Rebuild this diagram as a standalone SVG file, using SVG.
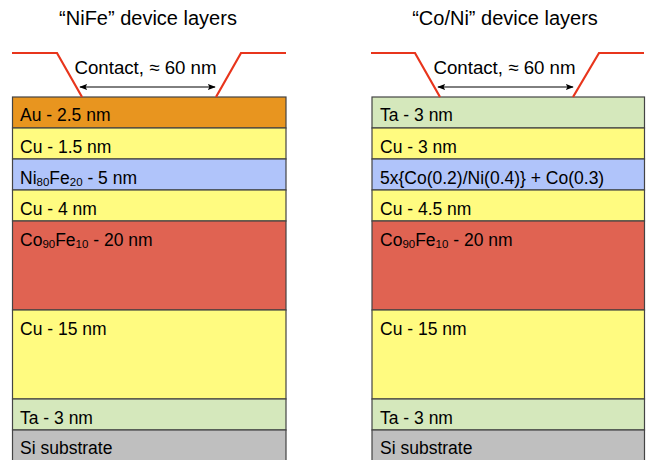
<svg xmlns="http://www.w3.org/2000/svg" width="646" height="460" viewBox="0 0 646 460">
<defs>
<style>
text{font-family:"Liberation Sans",Arial,sans-serif;fill:#000}
.title{font-size:20px;text-anchor:middle}
.ct{font-size:18.7px;text-anchor:middle}
.lbl{font-size:17.5px}
.sub{font-size:11.5px}
.layer{stroke:#444;stroke-width:1.2}
.au{fill:#E8951F}.cu{fill:#FFFB80}.nife{fill:#B0C4FA}.cofe{fill:#E06352}.ta{fill:#D5E8BC}.si{fill:#BFBFBF}
.contact{fill:none;stroke:#E8351C;stroke-width:2.2}
.arr{stroke:#000;stroke-width:1;marker-start:url(#ah);marker-end:url(#ah)}
</style>
<marker id="ah" viewBox="0 0 10 10" refX="9" refY="5" markerWidth="8" markerHeight="8" orient="auto-start-reverse" markerUnits="userSpaceOnUse">
<path d="M0,1 L10,5 L0,9 L2,5 Z" fill="#000"/>
</marker>
</defs>
<rect width="646" height="460" fill="#fff"/>

<g id="nife-stack">
<text class="title" x="148" y="25">“NiFe” device layers</text>
<g id="nife-au"><rect class="layer au" x="12.5" y="97" width="273.5" height="31"/><text class="lbl" x="20" y="121">Au - 2.5 nm</text></g>
<g id="nife-cu1"><rect class="layer cu" x="12.5" y="128" width="273.5" height="31"/><text class="lbl" x="20" y="152.5">Cu - 1.5 nm</text></g>
<g id="nife-nife"><rect class="layer nife" x="12.5" y="159" width="273.5" height="31"/><text class="lbl" x="20" y="183.5">Ni<tspan class="sub" dy="2">80</tspan><tspan dy="-2">Fe</tspan><tspan class="sub" dy="2">20</tspan><tspan dy="-2"> - 5 nm</tspan></text></g>
<g id="nife-cu2"><rect class="layer cu" x="12.5" y="190" width="273.5" height="31"/><text class="lbl" x="20" y="214.5">Cu - 4 nm</text></g>
<g id="nife-cofe"><rect class="layer cofe" x="12.5" y="221" width="273.5" height="89"/><text class="lbl" x="20" y="246">Co<tspan class="sub" dy="2">90</tspan><tspan dy="-2">Fe</tspan><tspan class="sub" dy="2">10</tspan><tspan dy="-2"> - 20 nm</tspan></text></g>
<g id="nife-cu3"><rect class="layer cu" x="12.5" y="310" width="273.5" height="89"/><text class="lbl" x="20" y="335">Cu - 15 nm</text></g>
<g id="nife-ta"><rect class="layer ta" x="12.5" y="399" width="273.5" height="31"/><text class="lbl" x="20" y="423.5">Ta - 3 nm</text></g>
<g id="nife-si"><rect class="layer si" x="12.5" y="430" width="273.5" height="32"/><text class="lbl" x="20" y="453.5">Si substrate</text></g>
</g>

<g id="coni-stack">
<text class="title" x="505" y="25">“Co/Ni” device layers</text>
<g id="coni-ta1"><rect class="layer ta" x="372" y="97" width="272.5" height="31"/><text class="lbl" x="380" y="121">Ta - 3 nm</text></g>
<g id="coni-cu1"><rect class="layer cu" x="372" y="128" width="272.5" height="31"/><text class="lbl" x="380" y="152.5">Cu - 3 nm</text></g>
<g id="coni-coni"><rect class="layer nife" x="372" y="159" width="272.5" height="31"/><text class="lbl" x="380" y="183.5">5x{Co(0.2)/Ni(0.4)} + Co(0.3)</text></g>
<g id="coni-cu2"><rect class="layer cu" x="372" y="190" width="272.5" height="31"/><text class="lbl" x="380" y="214.5">Cu - 4.5 nm</text></g>
<g id="coni-cofe"><rect class="layer cofe" x="372" y="221" width="272.5" height="89"/><text class="lbl" x="380" y="246">Co<tspan class="sub" dy="2">90</tspan><tspan dy="-2">Fe</tspan><tspan class="sub" dy="2">10</tspan><tspan dy="-2"> - 20 nm</tspan></text></g>
<g id="coni-cu3"><rect class="layer cu" x="372" y="310" width="272.5" height="89"/><text class="lbl" x="380" y="335">Cu - 15 nm</text></g>
<g id="coni-ta2"><rect class="layer ta" x="372" y="399" width="272.5" height="31"/><text class="lbl" x="380" y="423.5">Ta - 3 nm</text></g>
<g id="coni-si"><rect class="layer si" x="372" y="430" width="272.5" height="32"/><text class="lbl" x="380" y="453.5">Si substrate</text></g>
</g>

<g id="connectors">
<polyline class="contact" points="12,53 57,53 82,97"/>
<polyline class="contact" points="216,97 241,53 286,53"/>
<polyline class="contact" points="371,53 415,53 440,97"/>
<polyline class="contact" points="573,97 599,53 644,53"/>
<line class="arr" x1="80" y1="87" x2="215" y2="87"/>
<line class="arr" x1="438" y1="87" x2="573" y2="87"/>
</g>
<g id="contact-labels">
<text class="ct" x="145.5" y="74">Contact, ≈ 60 nm</text>
<text class="ct" x="504.5" y="74">Contact, ≈ 60 nm</text>
</g>
</svg>
